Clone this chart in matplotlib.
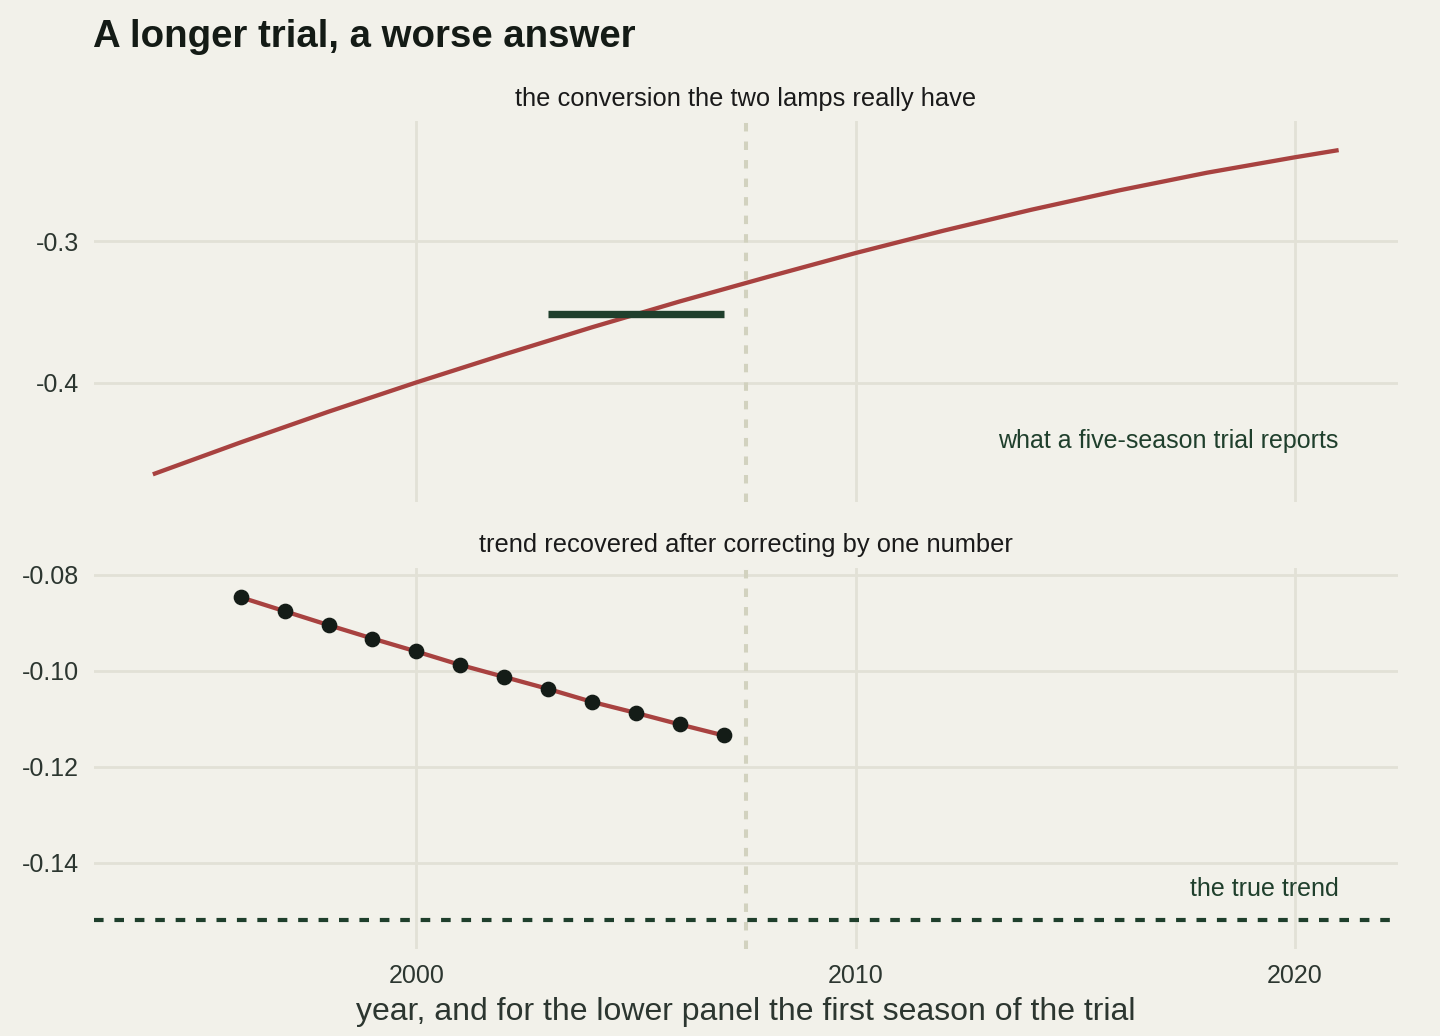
import matplotlib
matplotlib.use("Agg")
import matplotlib.pyplot as plt

plt.rcParams.update({
    "font.family": ["Liberation Sans", "DejaVu Sans"],
})

# ---------------------------------------------------------------------------
# Data
# ---------------------------------------------------------------------------

# upper panel: the real conversion between the two lamps, by year
curve_years = [1994, 1996, 1998, 2000, 2002, 2004, 2006, 2008,
               2010, 2012, 2014, 2016, 2018, 2020, 2021]
conversion = [-0.4648, -0.4422, -0.4205, -0.3998, -0.3800, -0.3608, -0.3425, -0.3252,
              -0.3083, -0.2925, -0.2777, -0.2640, -0.2515, -0.2406, -0.2355]

# what a five-season trial reports
trial_span = [2003, 2007]
trial_report = -0.3513

# lower panel: trend recovered, by first season of the trial
first_seasons = [1996, 1997, 1998, 1999, 2000, 2001, 2002, 2003, 2004, 2005, 2006, 2007]
recovered = [-0.0847, -0.0876, -0.0905, -0.0933, -0.0960, -0.0988,
             -0.1013, -0.1038, -0.1065, -0.1088, -0.1112, -0.1135]

true_trend = -0.152
split_year = 2007.5

x_ticks = [2000, 2010, 2020]
top_y_ticks = [-0.4, -0.3]
bottom_y_ticks = [-0.14, -0.12, -0.10, -0.08]

# ---------------------------------------------------------------------------
# Style
# ---------------------------------------------------------------------------

BG = "#f2f1ea"
GRID = "#e2e1d6"
RED = "#a84240"
GREEN = "#1f3f2c"
DOT = "#141c17"
TICK = "#2c3630"
SPLIT = "#d2d2bf"

W, H = 1440, 1036
fig = plt.figure(figsize=(W / 100, H / 100), dpi=100, facecolor=BG)

left = 94 / W
width = 1303.5 / W
ax_top = fig.add_axes([left, (H - 502) / H, width, (502 - 121) / H])
ax_bot = fig.add_axes([left, (H - 949) / H, width, (949 - 568.3) / H])

for ax in (ax_top, ax_bot):
    ax.set_facecolor(BG)
    for s in ax.spines.values():
        s.set_visible(False)
    ax.set_xlim(1992.66, 2022.34)
    ax.set_xticks(x_ticks)
    ax.grid(True, color=GRID, linewidth=2.0)
    ax.set_axisbelow(True)
    ax.tick_params(length=0, labelsize=18, labelcolor=TICK, pad=11)
    ax.axvline(split_year, color=SPLIT, linewidth=2.9, dashes=(2.1, 2.5), zorder=1)

# --- upper panel ---
ax_top.set_ylim(-0.48437, -0.21492)
ax_top.set_yticks(top_y_ticks)
ax_top.set_yticklabels(["-0.4", "-0.3"])
ax_top.tick_params(axis="x", labelbottom=False)
ax_top.plot(curve_years, conversion, color=RED, linewidth=3.1, solid_capstyle="butt",
            solid_joinstyle="round", zorder=3)
ax_top.plot(trial_span, [trial_report, trial_report], color=GREEN, linewidth=5.3,
            solid_capstyle="butt", zorder=4)
ax_top.text(2021, -0.4464, "what a five-season trial reports", color=GREEN,
            fontsize=18, ha="right", va="baseline")

# --- lower panel ---
ax_bot.set_ylim(-0.15798, -0.07867)
ax_bot.set_yticks(bottom_y_ticks)
ax_bot.set_yticklabels([f"{v:.2f}" for v in bottom_y_ticks])
ax_bot.axhline(true_trend, color=GREEN, linewidth=3.0, dashes=(2.3, 2.6), zorder=2)
ax_bot.plot(first_seasons, recovered, color=RED, linewidth=3.1, zorder=3)
ax_bot.plot(first_seasons, recovered, "o", color=DOT, markersize=10.3, zorder=4)
ax_bot.text(2021, -0.14688, "the true trend", color=GREEN, fontsize=18,
            ha="right", va="baseline")
ax_bot.tick_params(axis="x", pad=11)

# --- texts ---
cx = (94 + 1397.5) / 2 / W
fig.text(93 / W, 1 - 46.7 / H, "A longer trial, a worse answer", fontsize=27.6,
         fontweight="bold", color="#141b16", ha="left", va="baseline")
fig.text(cx, 1 - 106 / H, "the conversion the two lamps really have", fontsize=18.4,
         color="#1a1a1a", ha="center", va="baseline")
fig.text(cx, 1 - 552.3 / H, "trend recovered after correcting by one number", fontsize=18.4,
         color="#1a1a1a", ha="center", va="baseline")
fig.text(cx, 1 - 1020 / H, "year, and for the lower panel the first season of the trial",
         fontsize=23, color=TICK, ha="center", va="baseline")

fig.savefig("out.png", dpi=100, facecolor=BG)
